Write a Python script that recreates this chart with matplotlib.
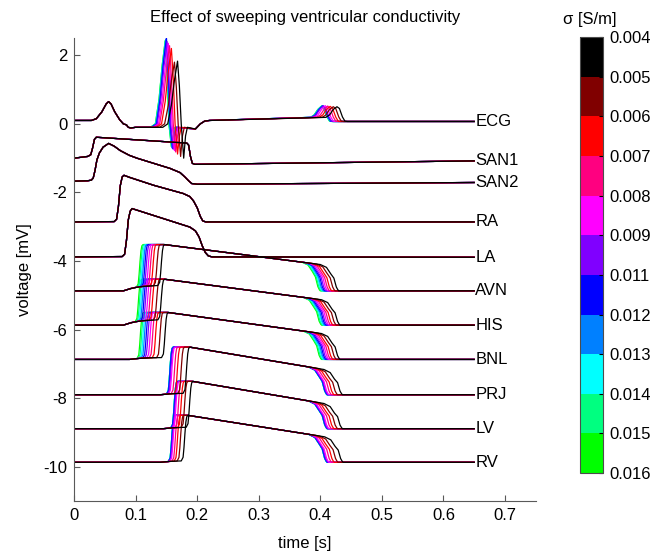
import numpy as np
import matplotlib
matplotlib.use("Agg")
import matplotlib.pyplot as plt
from matplotlib.colors import ListedColormap, BoundaryNorm
from matplotlib.cm import ScalarMappable

plt.rcParams['font.family'] = ['Liberation Sans', 'DejaVu Sans']
plt.rcParams['axes.unicode_minus'] = False

# ---------------- data ----------------
sigma_labels = ['0.004', '0.005', '0.006', '0.007', '0.008', '0.009',
                '0.011', '0.012', '0.013', '0.014', '0.015', '0.016']
# one colour per simulation, lowest conductivity (black) first
sim_colors = ['#000000', '#800000', '#ff0000', '#ff0080', '#ff00ff', '#8000ff',
              '#0000ff', '#0080ff', '#00ffff', '#00ff80', '#00ff00']

trace_names = ['ECG', 'SAN1', 'SAN2', 'RA', 'LA', 'AVN', 'HIS', 'BNL', 'PRJ', 'LV', 'RV']

# ECG features per simulation (black ... green)
ecg_r_time = [0.168, 0.163, 0.158, 0.155, 0.153, 0.151, 0.150, 0.149, 0.149, 0.148, 0.148]
ecg_r_amp = [1.83, 1.80, 2.20, 2.28, 2.35, 2.40, 2.50, 2.47, 2.45, 2.43, 2.42]
ecg_s_amp = [-1.00, -0.95, -0.88, -0.82, -0.78, -0.74, -0.72, -0.70, -0.68, -0.67, -0.66]
ecg_t_time = [0.427, 0.421, 0.416, 0.412, 0.408, 0.405, 0.404, 0.403, 0.403, 0.402, 0.402]
ecg_t_amp = [0.50, 0.50, 0.51, 0.52, 0.53, 0.53, 0.53, 0.52, 0.52, 0.52, 0.52]
ecg_p_t = [0.0, 0.028, 0.036, 0.045, 0.052, 0.056, 0.060, 0.066, 0.074, 0.080, 0.085, 0.088, 0.092, 0.100]
ecg_p_v = [0.10, 0.10, 0.15, 0.35, 0.58, 0.65, 0.58, 0.35, 0.12, 0.00, -0.03, -0.10, -0.12, -0.10]

# atrial traces (identical for all simulations)
san1_t = [0.0, 0.022, 0.027, 0.030, 0.033, 0.036, 0.183, 0.186, 0.189, 0.192, 0.196, 0.65]
san1_v = [-1.00, -0.95, -0.90, -0.70, -0.45, -0.39, -0.56, -0.62, -0.95, -1.15, -1.18, -1.08]
san2_t = [0.0, 0.022, 0.028, 0.031, 0.034, 0.037, 0.041, 0.047, 0.056, 0.065, 0.075, 0.090,
          0.102, 0.129, 0.156, 0.172, 0.180, 0.186, 0.191, 0.200, 0.65]
san2_v = [-1.67, -1.66, -1.64, -1.58, -1.35, -1.05, -0.85, -0.68, -0.57, -0.65, -0.78, -0.92,
          -1.00, -1.15, -1.30, -1.42, -1.55, -1.66, -1.74, -1.76, -1.71]
ra_t = [0.0, 0.065, 0.069, 0.072, 0.075, 0.078, 0.081, 0.090, 0.129, 0.177, 0.188, 0.194,
        0.200, 0.205, 0.209, 0.214, 0.65]
ra_v = [-2.86, -2.85, -2.78, -2.40, -1.80, -1.55, -1.50, -1.56, -1.79, -2.03, -2.12, -2.25,
        -2.45, -2.70, -2.83, -2.86, -2.86]
la_t = [0.0, 0.078, 0.082, 0.085, 0.088, 0.091, 0.094, 0.188, 0.197, 0.203, 0.208, 0.213,
        0.218, 0.224, 0.65]
la_v = [-3.88, -3.87, -3.80, -3.40, -2.80, -2.55, -2.47, -3.01, -3.12, -3.30, -3.55, -3.75,
        -3.85, -3.88, -3.89]

# conduction-system / ventricular action potentials
ap_names = ['AVN', 'HIS', 'BNL', 'PRJ', 'LV', 'RV']
ap_base = [-4.87, -5.87, -6.87, -7.90, -8.89, -9.87]
ap_top = [-3.52, -4.53, -5.50, -6.51, -7.51, -8.50]
ap_late = [-3.99, -5.01, -5.99, -7.00, -7.99, -8.97]     # plateau value at t = 0.351 s
ap_foot = [0.17, 0.17, 0.06, 0.05, 0.05, 0.05]           # pre-upstroke rise
ap_foot_start = [0.080, 0.080, 0.090, 0.140, 0.145, 0.140]
ap_up_first = [0.107, 0.105, 0.108, 0.156, 0.163, 0.159]  # earliest upstroke
ap_up_last = [0.142, 0.142, 0.148, 0.183, 0.188, 0.180]   # latest upstroke (black)
ap_rep_first = [0.400, 0.402, 0.402, 0.411, 0.411, 0.411]
ap_rep_last = [0.430, 0.432, 0.432, 0.436, 0.436, 0.437]
# relative delay of each simulation (1 = black, 0 = earliest)
delay_cond = [1.00, 0.80, 0.62, 0.50, 0.40, 0.31, 0.24, 0.17, 0.11, 0.05, 0.00]
delay_vent = [1.00, 0.68, 0.45, 0.28, 0.12, 0.06, 0.02, 0.00, 0.00, 0.00, 0.00]

t_end = 0.65

# ---------------- figure ----------------
fig = plt.figure(figsize=(6.68, 5.53), dpi=100)
ax = fig.add_axes([0.111, 0.094, 0.691, 0.837])


def ecg_curve(i):
    tR, A, S = ecg_r_time[i], ecg_r_amp[i], ecg_s_amp[i]
    tT, AT = ecg_t_time[i], ecg_t_amp[i]
    t = list(ecg_p_t) + [tR - 0.024, tR - 0.016, tR - 0.010, tR - 0.005, tR,
                         tR + 0.003, tR + 0.006, tR + 0.010, tR + 0.013, tR + 0.016,
                         0.197, 0.205, 0.212, 0.220]
    v = list(ecg_p_v) + [-0.10, 0.0, 0.3 * A, 0.7 * A, A,
                         0.6 * A, 0.0, S, -0.35, -0.10,
                         -0.15, 0.0, 0.08, 0.10]
    pre = float(np.interp(tT - 0.018, [0.22, 0.385], [0.10, 0.19]))
    t += [tT - 0.018, tT - 0.012, tT - 0.006, tT, tT + 0.004, tT + 0.009, tT + 0.013,
          tT + 0.017, t_end]
    v += [pre, pre + 0.07, 0.42, AT, 0.45, 0.20, 0.08, 0.07, 0.07]
    return t, v


def ap_curve(k, i):
    d = delay_cond[i] if k < 3 else delay_vent[i]
    base, top, late = ap_base[k], ap_top[k], ap_late[k]
    tu = ap_up_first[k] + d * (ap_up_last[k] - ap_up_first[k])
    tr = ap_rep_first[k] + d * (ap_rep_last[k] - ap_rep_first[k])
    fs = ap_foot_start[k]

    def foot(tt):
        return base + float(np.interp(tt, [fs, fs + 0.015, fs + 0.03, fs + 0.07],
                                      [0, 0.5 * ap_foot[k], 0.75 * ap_foot[k], ap_foot[k]]))
    tl = ap_up_last[k] + 0.004
    slope = (late - top) / (0.351 - tl)

    def plat(tt):
        return top + slope * max(tt - tl, 0.0)
    t = [0.0, fs]
    v = [base, base]
    for tt in np.linspace(fs, tu - 0.006, 6)[1:]:
        t.append(tt)
        v.append(foot(tt))
    f0 = foot(tu - 0.006)
    a2 = top - f0
    t += [tu - 0.003, tu - 0.0015, tu, tu + 0.0015, tu + 0.003, tu + 0.005]
    v += [f0 + 0.08 * a2, f0 + 0.3 * a2, f0 + 0.6 * a2, f0 + 0.85 * a2, f0 + 0.97 * a2, top]
    for tt in [tl, tr - 0.030]:
        if tt > t[-1]:
            t.append(tt)
            v.append(plat(tt))
    p = plat(tr - 0.02)
    t += [tr - 0.020, tr - 0.013, tr - 0.008, tr - 0.004, tr - 0.0015, tr, t_end]
    v += [p - 0.06, p - 0.25, base + 0.5 * (p - base), base + 0.15 * (p - base),
          base + 0.03, base, base]
    return t, v


atrial = [(san1_t, san1_v), (san2_t, san2_v), (ra_t, ra_v), (la_t, la_v)]

for i in range(len(sim_colors) - 1, -1, -1):
    c = sim_colors[i]
    t, v = ecg_curve(i)
    ax.plot(t, v, color=c, lw=0.9)
    for (tt, vv) in atrial:
        ax.plot(tt, vv, color=c, lw=0.9)
    for k in range(len(ap_names)):
        t, v = ap_curve(k, i)
        ax.plot(t, v, color=c, lw=0.9)

# labels at the right end of each trace
end_vals = [ecg_curve(0)[1][-1], san1_v[-1], san2_v[-1], ra_v[-1], la_v[-1]] + list(ap_base)
for name, yv in zip(trace_names, end_vals):
    ax.text(t_end + 0.002, yv, name, ha='left', va='center', fontsize=12)

ax.set_xlim(0, 0.75)
ax.set_ylim(-11, 2.5)
ax.set_xticks([0, 0.1, 0.2, 0.3, 0.4, 0.5, 0.6, 0.7])
ax.set_xticklabels(['0', '0.1', '0.2', '0.3', '0.4', '0.5', '0.6', '0.7'])
ax.set_yticks([2, 0, -2, -4, -6, -8, -10])
ax.tick_params(direction='in', length=4, labelsize=12, color='0.35', pad=5)
for s in ['top', 'right']:
    ax.spines[s].set_visible(False)
for s in ['left', 'bottom']:
    ax.spines[s].set_color('0.35')

fig.text(0.4566, 0.969, 'Effect of sweeping ventricular conductivity',
         ha='center', va='center', fontsize=12)
fig.text(0.037, 0.512, 'voltage [mV]', rotation=90, ha='center', va='center', fontsize=12)
fig.text(0.4566, 0.018, 'time [s]', ha='center', va='center', fontsize=12)

# colour bar
cax = fig.add_axes([0.868, 0.1447, 0.0344, 0.788])
cmap = ListedColormap(sim_colors[::-1])
norm = BoundaryNorm(np.arange(len(sim_colors) + 1), len(sim_colors))
cb = fig.colorbar(ScalarMappable(norm=norm, cmap=cmap), cax=cax,
                  ticks=np.arange(len(sim_colors) + 1))
cb.set_ticklabels(sigma_labels[::-1])
cb.ax.tick_params(labelsize=12, length=3, direction='in', pad=5)
cb.outline.set_edgecolor('0.3')
fig.text(0.883, 0.964, '\u03c3 [S/m]', ha='center', va='center', fontsize=12)

fig.savefig('out.png', dpi=100)
